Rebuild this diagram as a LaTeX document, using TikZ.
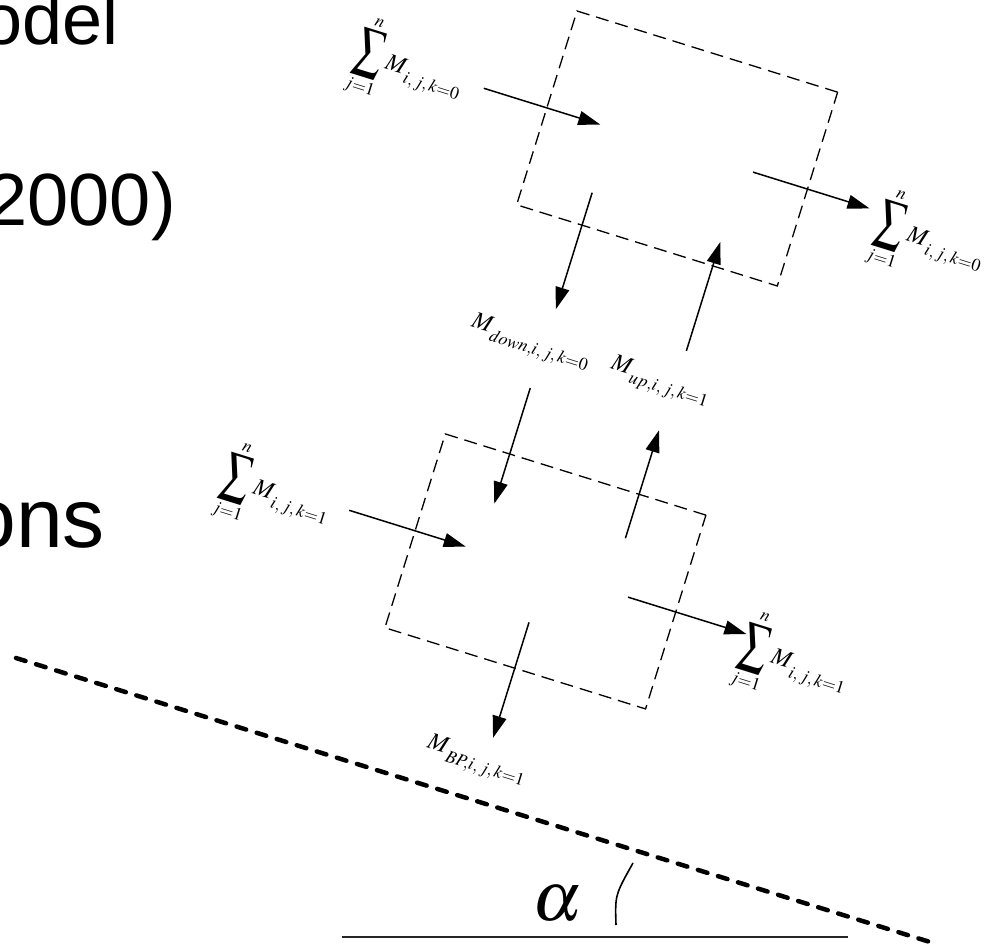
\documentclass[tikz,border=0pt]{standalone}
\usepackage{mathptmx}
\usepackage[no-math]{fontspec}
\usepackage{graphicx}
\newfontfamily\arialfont{Liberation Sans}
\usetikzlibrary{arrows.meta}
\newcommand{\mysum}{\mathop{\raise3.5pt\hbox{$\vcenter{\hbox{\scalebox{1.15}[1.6]{$\displaystyle\sum$}}}$}}\limits_{j=1}^{n}}
\newcommand{\lowsub}[1]{_{\kern2pt\lower5pt\hbox{$\scriptstyle #1$}}}
\begin{document}
\begin{tikzpicture}[x=1pt,y=-1pt,
  cvbox/.style={draw, dash pattern=on 13pt off 7pt, line width=1.3pt, inner sep=0pt, transform shape, minimum width=273pt, minimum height=203pt},
  flow/.style={line width=1.5pt, -{Triangle[length=22pt,width=14pt]}},
  lbl/.style={inner sep=0pt, transform shape, font=\fontsize{24}{28}\selectfont},
  slidetxt/.style={inner sep=0pt, font=\arialfont, anchor=base east},
  slopeline/.style={line width=4.5pt, dash pattern=on 10pt off 11pt, line cap=round},
]
\useasboundingbox (0,0) rectangle (992,947);
\clip (0,0) rectangle (992,947);

% slide text fragments
\node[slidetxt, font=\arialfont\fontsize{72}{78}\selectfont] (t1) at (119,45) {odel};
\node[slidetxt, font=\arialfont\fontsize{74}{80}\selectfont] (t2) at (176,225) {2000)};
\node[slidetxt, font=\arialfont\fontsize{84}{90}\selectfont] (t3) at (105,547) {ons};

% rotated diagram
\begin{scope}[shift={(577,11)}, rotate=-17.3]
  \node[cvbox] (upper) at (136.5,101.5) {};
  \node[cvbox] (lower) at (136.5,544.5) {};

  \coordinate (tin1) at (-66,101.5);  \coordinate (tin2) at (56,101.5);
  \coordinate (tout1) at (216,101.5); \coordinate (tout2) at (338,101.5);
  \coordinate (tdn1) at (68.5,169);   \coordinate (tdn2) at (68.5,291);
  \coordinate (tup1) at (205.5,292);  \coordinate (tup2) at (205.5,178);

  \coordinate (bdn1) at (67.5,374);   \coordinate (bdn2) at (67.5,495);
  \coordinate (bup1) at (203,489);    \coordinate (bup2) at (203,376);
  \coordinate (bin1) at (-69,544.5);  \coordinate (bin2) at (53,544.5);
  \coordinate (bout1) at (223,544.5); \coordinate (bout2) at (347,544.5);
  \coordinate (bbp1) at (136,598);    \coordinate (bbp2) at (136,719);

  \draw[flow] (tin1) -- (tin2);
  \draw[flow] (tout1) -- (tout2);
  \draw[flow] (tdn1) -- (tdn2);
  \draw[flow] (tup1) -- (tup2);
  \draw[flow] (bdn1) -- (bdn2);
  \draw[flow] (bup1) -- (bup2);
  \draw[flow] (bin1) -- (bin2);
  \draw[flow] (bout1) -- (bout2);
  \draw[flow] (bbp1) -- (bbp2);

  \node[lbl, anchor=base] (l1) at (-144,112) {$\mysum M\lowsub{i,\,j,\,k=0}$};
  \node[lbl, anchor=base] (l2) at (405,121) {$\mysum M\lowsub{i,\,j,\,k=0}$};
  \node[lbl] (l3) at (54,331) {$M\lowsub{down,i,\,j,\,k=0}$};
  \node[lbl] (l4) at (189.5,329.5) {$M\lowsub{up,i,\,j,\,k=1}$};
  \node[lbl, anchor=base] (l5) at (-144,557) {$\mysum M\lowsub{i,\,j,\,k=1}$};
  \node[lbl, anchor=base] (l6) at (401,565) {$\mysum M\lowsub{i,\,j,\,k=1}$};
  \node[lbl] (l7) at (127,746) {$M\lowsub{BP,i,\,j,\,k=1}$};
\end{scope}

% slope and angle
\coordinate (s1) at (16,658);
\coordinate (s2) at (930,942);
\draw[slopeline] (s1) -- (s2);
\coordinate (h1) at (342,937);
\coordinate (h2) at (848,937);
\draw[line width=2pt, black!85] (h1) -- (h2);
\coordinate (a1) at (616,925);
\coordinate (a2) at (633,863);
\draw[line width=1.6pt] (a1) .. controls (615,895) .. (a2);
\node[inner sep=0pt, font=\fontsize{70}{70}\selectfont] (alpha) at (557,904) {$\alpha$};
\end{tikzpicture}
\end{document}
